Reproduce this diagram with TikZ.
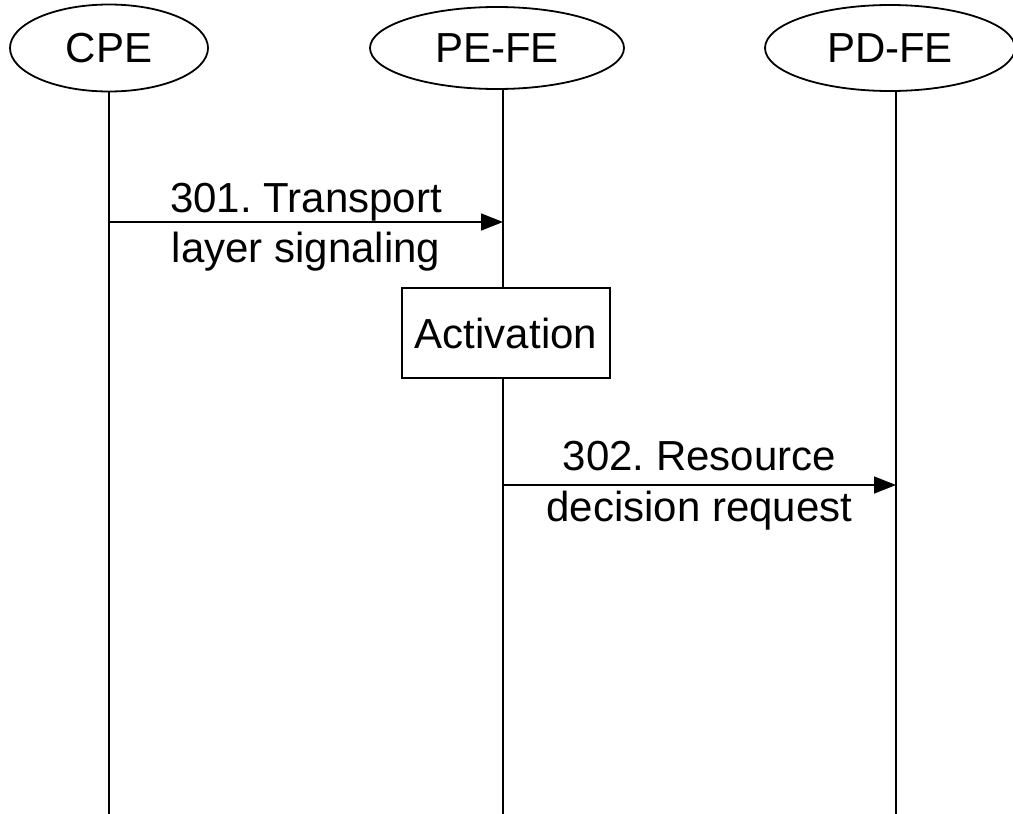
\documentclass[tikz,border=0pt]{standalone}
\usepackage{fontspec}
\setmainfont{Liberation Sans}
\usetikzlibrary{shapes.geometric,arrows.meta}
\frenchspacing
\tikzset{
  entity/.style={ellipse, draw, line width=1.8pt, inner sep=0pt, fill=white},
  lifeline/.style={line width=2pt},
  msg/.style={line width=1.6pt, -{Triangle[length=22pt,width=17pt]}},
  actbox/.style={rectangle, draw, line width=1.8pt, fill=white, inner sep=0pt,
                 minimum width=208pt, minimum height=90pt},
  msgtext/.style={anchor=base, inner sep=0pt},
}
\begin{document}
\begin{tikzpicture}[x=1pt, y=-1pt, font=\fontsize{42}{50}\selectfont]
\useasboundingbox (0,0) rectangle (1013,814);

% entities
\node[entity, minimum width=198pt, minimum height=87pt] (cpe)  at (109,48) {CPE};
\node[entity, minimum width=254pt, minimum height=82pt] (pefe) at (497,48) {PE-FE};
\node[entity, minimum width=250pt, minimum height=86pt] (pdfe) at (890,48) {PD-FE};

% lifeline ends
\coordinate (cpeB) at (109,814);
\coordinate (peB)  at (503,814);
\coordinate (pdB)  at (896,814);

\draw[lifeline] (cpe.south -| cpeB) -- (cpeB);
\draw[lifeline] (pefe.south -| peB) -- (peB);
\draw[lifeline] (pdfe.south -| pdB) -- (pdB);

% message 301
\coordinate (m1a) at (109,222);
\coordinate (m1b) at (503,222);
\draw[msg] (m1a) -- (m1b)
  node[midway, msgtext, yshift=10pt] {301. Transport}
  node[midway, msgtext, yshift=-40pt] {layer signaling};

% activation
\node[actbox] (act) at (506,333) {Activation};

% message 302
\coordinate (m2a) at (503,485);
\coordinate (m2b) at (896,485);
\draw[msg] (m2a) -- (m2b)
  node[midway, msgtext, yshift=15pt] {302. Resource}
  node[midway, msgtext, yshift=-36pt] {decision request};
\end{tikzpicture}
\end{document}
